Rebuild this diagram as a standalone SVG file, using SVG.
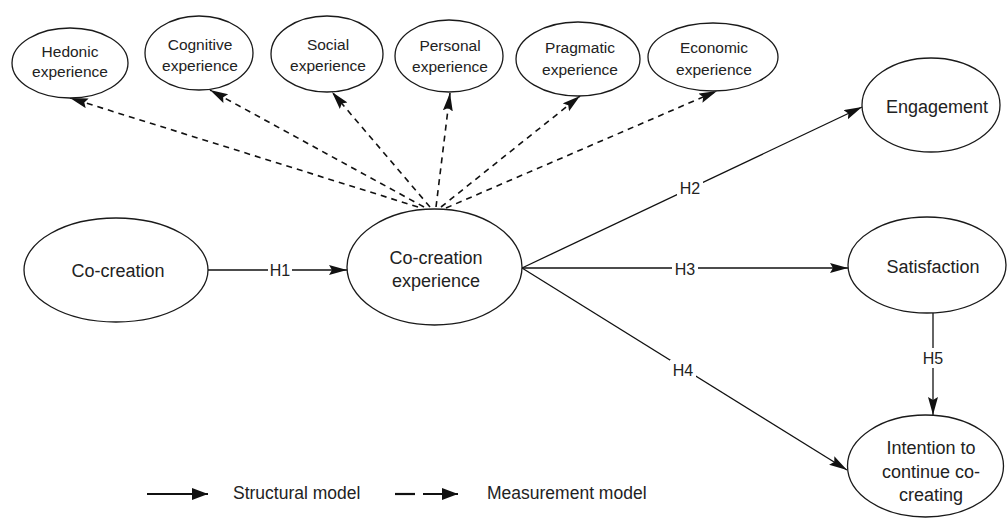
<svg xmlns="http://www.w3.org/2000/svg" width="1008" height="518" viewBox="0 0 1008 518">
<style>
.node ellipse{fill:#fff;stroke:#1a1a1a;stroke-width:1.3}
text{font-family:"Liberation Sans",Arial,sans-serif;fill:#222;text-anchor:middle}
.m{font-size:15.5px}
.c{font-size:18px}
.lbl{font-size:16px}
.leg{font-size:17.5px;text-anchor:start}
.solid{stroke:#111;stroke-width:1.3;fill:none}
.dash{stroke:#111;stroke-width:1.6;fill:none;stroke-dasharray:6 5}
.bg{fill:#fff}
</style>
<defs>
<marker id="ah" markerUnits="userSpaceOnUse" markerWidth="20" markerHeight="12" refX="18" refY="5" orient="auto">
<path d="M0,0 L18,5 L0,10 L3,5 z" fill="#111"/>
</marker>
<marker id="lh" markerUnits="userSpaceOnUse" markerWidth="18" markerHeight="14" refX="16" refY="6" orient="auto">
<path d="M0,0 L16,6 L0,12 z" fill="#111"/>
</marker>
</defs>

<g id="connectors">
<line class="solid" x1="208" y1="270" x2="347" y2="270" marker-end="url(#ah)"/>
<line class="solid" x1="522" y1="268" x2="862" y2="107" marker-end="url(#ah)"/>
<line class="solid" x1="522" y1="268" x2="848" y2="268" marker-end="url(#ah)"/>
<line class="solid" x1="522" y1="268" x2="847" y2="470" marker-end="url(#ah)"/>
<line class="solid" x1="933" y1="313" x2="933" y2="415" marker-end="url(#ah)"/>
<line class="dash" x1="418" y1="207" x2="70" y2="98" marker-end="url(#ah)"/>
<line class="dash" x1="424" y1="207" x2="210" y2="90" marker-end="url(#ah)"/>
<line class="dash" x1="430" y1="207" x2="332" y2="92" marker-end="url(#ah)"/>
<line class="dash" x1="436" y1="207" x2="450" y2="93" marker-end="url(#ah)"/>
<line class="dash" x1="441" y1="207" x2="580" y2="96" marker-end="url(#ah)"/>
<line class="dash" x1="446" y1="208" x2="717" y2="91" marker-end="url(#ah)"/>
<rect class="bg" x="268" y="260" width="24" height="20"/>
<text class="lbl" x="280" y="276">H1</text>
<rect class="bg" x="677" y="178" width="26" height="20"/>
<text class="lbl" x="690" y="194">H2</text>
<rect class="bg" x="672" y="259" width="26" height="20"/>
<text class="lbl" x="685" y="275">H3</text>
<rect class="bg" x="670" y="360" width="26" height="20"/>
<text class="lbl" x="683" y="376">H4</text>
<rect class="bg" x="920" y="348" width="26" height="20"/>
<text class="lbl" x="933" y="364">H5</text>
</g>

<g id="hedonic" class="node">
<ellipse cx="70" cy="63" rx="58" ry="35"/>
<text class="m" x="70" y="57">Hedonic</text>
<text class="m" x="70" y="77">experience</text>
</g>
<g id="cognitive" class="node">
<ellipse cx="199" cy="53" rx="54" ry="37"/>
<text class="m" x="200" y="50">Cognitive</text>
<text class="m" x="200" y="71">experience</text>
</g>
<g id="social" class="node">
<ellipse cx="327" cy="54" rx="56" ry="38"/>
<text class="m" x="328" y="50">Social</text>
<text class="m" x="328" y="71">experience</text>
</g>
<g id="personal" class="node">
<ellipse cx="449" cy="56" rx="54" ry="36"/>
<text class="m" x="450" y="51">Personal</text>
<text class="m" x="450" y="72">experience</text>
</g>
<g id="pragmatic" class="node">
<ellipse cx="578" cy="59" rx="62" ry="37"/>
<text class="m" x="580" y="53">Pragmatic</text>
<text class="m" x="580" y="75">experience</text>
</g>
<g id="economic" class="node">
<ellipse cx="713" cy="57" rx="65" ry="34"/>
<text class="m" x="714" y="53">Economic</text>
<text class="m" x="714" y="75">experience</text>
</g>
<g id="cocreation" class="node">
<ellipse cx="116" cy="270" rx="92" ry="52"/>
<text class="c" x="118" y="277">Co-creation</text>
</g>
<g id="cocreation-experience" class="node">
<ellipse cx="434.5" cy="267" rx="87.5" ry="58"/>
<text class="c" x="436" y="264">Co-creation</text>
<text class="c" x="436" y="287">experience</text>
</g>
<g id="engagement" class="node">
<ellipse cx="931" cy="105" rx="69" ry="47"/>
<text class="c" x="937" y="113">Engagement</text>
</g>
<g id="satisfaction" class="node">
<ellipse cx="927" cy="265" rx="79" ry="48"/>
<text class="c" x="933" y="273">Satisfaction</text>
</g>
<g id="intention" class="node">
<ellipse cx="925.5" cy="466" rx="78" ry="51"/>
<text class="c" x="931" y="454">Intention to</text>
<text class="c" x="931" y="478">continue co-</text>
<text class="c" x="931" y="501">creating</text>
</g>

<g id="legend">
<line class="solid" x1="147" y1="494" x2="208" y2="494" stroke-width="2.2" marker-end="url(#lh)" style="stroke-width:2.2"/>
<text class="leg" x="233" y="499">Structural model</text>
<line class="solid" x1="395" y1="494" x2="415" y2="494" style="stroke-width:2.2"/>
<line class="solid" x1="423" y1="494" x2="458" y2="494" marker-end="url(#lh)" style="stroke-width:2.2"/>
<text class="leg" x="487" y="499">Measurement model</text>
</g>
</svg>
